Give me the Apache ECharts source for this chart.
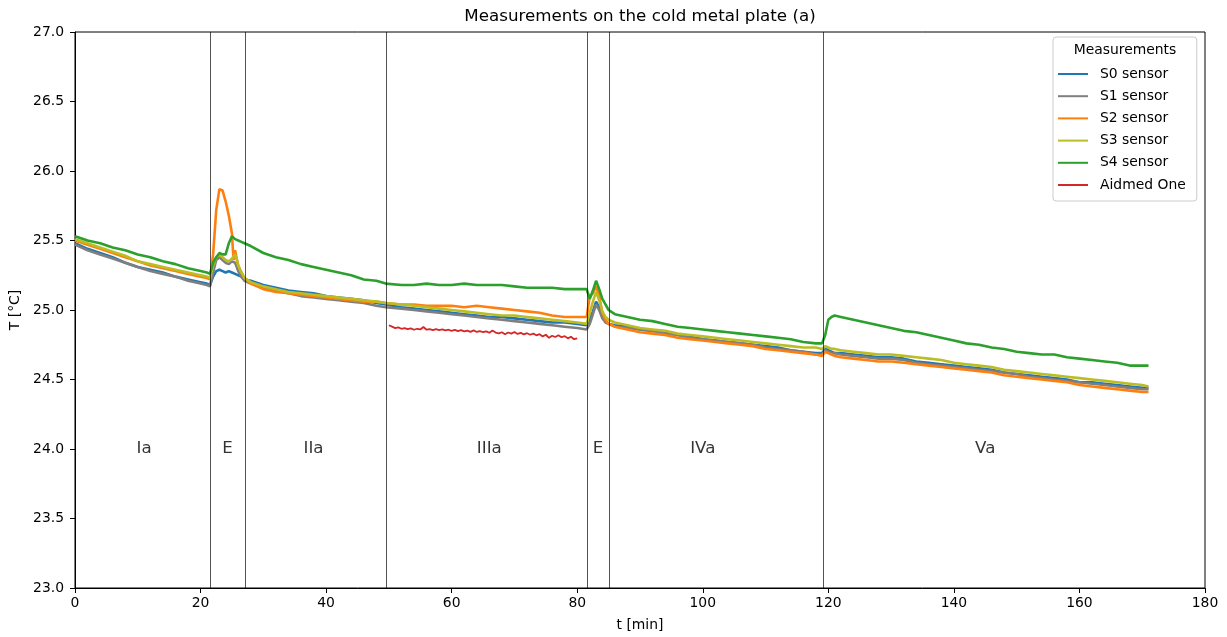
<!DOCTYPE html>
<html>
<head>
<meta charset="utf-8">
<script src="https://cdn.jsdelivr.net/npm/echarts@6/dist/echarts.min.js"></script>
<style>
  html, body { margin: 0; padding: 0; background: #fff; }
  #chart { width: 1227px; height: 637px; }
</style>
</head>
<body>
<div id="chart"></div>
<script>
// Sample times [min], shared by the five plate sensors
const minutes = [
  0, 2, 4, 6, 8, 10, 12, 14, 16, 18, 20, 21, 21.5,
  22, 22.5, 23, 23.5, 24, 24.5, 25, 25.25, 25.5, 25.75, 26, 26.5, 27,
  28, 30, 32, 34, 36, 38, 40, 42, 44, 46, 48, 49.5,
  52, 54, 56, 58, 60, 62, 64, 66, 68, 70, 72, 74, 76, 78, 80, 81.5,
  82, 82.5, 83, 83.5, 84, 84.5, 85,
  86, 88, 90, 92, 94, 96, 98, 100, 102, 104, 106, 108, 110, 112, 114, 116, 118, 119,
  119.5, 120, 120.5, 121, 122, 124, 126, 128, 130, 132, 134, 136, 138, 140, 142, 144, 146, 148, 150,
  152, 154, 156, 158, 160, 162, 164, 166, 168, 170, 171
];

// Temperatures [°C]
const s0 = [
  25.48, 25.44, 25.41, 25.38, 25.34, 25.31, 25.29, 25.27, 25.24, 25.22, 25.20, 25.19, 25.18,
  25.24, 25.28, 25.29, 25.28, 25.27, 25.28, 25.27, 25.27, 25.26, 25.26, 25.25, 25.24, 25.22,
  25.21, 25.18, 25.16, 25.14, 25.13, 25.12, 25.10, 25.09, 25.08, 25.07, 25.05, 25.04,
  25.02, 25.01, 25.00, 24.99, 24.98, 24.97, 24.96, 24.95, 24.95, 24.94, 24.93, 24.92, 24.91, 24.91, 24.90, 24.89,
  24.93, 24.99, 25.06, 25.02, 24.96, 24.92, 24.90,
  24.89, 24.88, 24.86, 24.85, 24.84, 24.82, 24.81, 24.79, 24.78, 24.77, 24.76, 24.75, 24.74, 24.73, 24.71, 24.70, 24.69, 24.69,
  24.72, 24.71, 24.70, 24.69, 24.69, 24.68, 24.67, 24.66, 24.66, 24.65, 24.63, 24.62, 24.61, 24.60, 24.59, 24.58, 24.57, 24.55, 24.54,
  24.53, 24.52, 24.51, 24.50, 24.48, 24.48, 24.47, 24.46, 24.45, 24.44, 24.44
];
const s1 = [
  25.47, 25.43, 25.40, 25.37, 25.34, 25.31, 25.28, 25.26, 25.24, 25.21, 25.19, 25.18, 25.17,
  25.27, 25.36, 25.38, 25.36, 25.34, 25.33, 25.35, 25.36, 25.34, 25.31, 25.28, 25.24, 25.21,
  25.19, 25.16, 25.14, 25.12, 25.10, 25.09, 25.08, 25.07, 25.06, 25.05, 25.03, 25.02,
  25.01, 25.00, 24.99, 24.98, 24.97, 24.96, 24.95, 24.94, 24.93, 24.92, 24.91, 24.90, 24.89, 24.88, 24.87, 24.86,
  24.90, 24.97, 25.04, 25.00, 24.94, 24.91, 24.90,
  24.88, 24.87, 24.86, 24.85, 24.83, 24.82, 24.80, 24.79, 24.78, 24.77, 24.76, 24.75, 24.73, 24.72, 24.71, 24.70, 24.68, 24.68,
  24.71, 24.70, 24.69, 24.69, 24.68, 24.67, 24.66, 24.65, 24.65, 24.64, 24.62, 24.61, 24.60, 24.59, 24.58, 24.57, 24.56, 24.55, 24.54,
  24.52, 24.51, 24.50, 24.49, 24.48, 24.47, 24.46, 24.45, 24.44, 24.43, 24.43
];
const s2 = [
  25.50, 25.47, 25.44, 25.41, 25.38, 25.35, 25.32, 25.30, 25.28, 25.26, 25.24, 25.23, 25.22,
  25.40, 25.72, 25.87, 25.86, 25.78, 25.68, 25.55, 25.36, 25.43, 25.37, 25.32, 25.27, 25.23,
  25.19, 25.15, 25.13, 25.12, 25.11, 25.10, 25.09, 25.08, 25.07, 25.06, 25.06, 25.05,
  25.04, 25.04, 25.03, 25.03, 25.03, 25.02, 25.03, 25.02, 25.01, 25.00, 24.99, 24.98, 24.96, 24.95, 24.95, 24.95,
  25.10, 25.12, 25.17, 25.10, 24.98, 24.93, 24.90,
  24.88, 24.86, 24.84, 24.83, 24.82, 24.80, 24.79, 24.78, 24.77, 24.76, 24.75, 24.74, 24.72, 24.71, 24.70, 24.69, 24.68, 24.67,
  24.70, 24.69, 24.68, 24.67, 24.66, 24.65, 24.64, 24.63, 24.63, 24.62, 24.61, 24.60, 24.59, 24.58, 24.57, 24.56, 24.55, 24.53, 24.52,
  24.51, 24.50, 24.49, 24.48, 24.46, 24.45, 24.44, 24.43, 24.42, 24.41, 24.41
];
const s3 = [
  25.51, 25.48, 25.45, 25.42, 25.39, 25.35, 25.33, 25.31, 25.29, 25.27, 25.25, 25.24, 25.23,
  25.32, 25.38, 25.40, 25.38, 25.36, 25.35, 25.37, 25.38, 25.40, 25.37, 25.32, 25.27, 25.23,
  25.20, 25.17, 25.15, 25.13, 25.12, 25.11, 25.10, 25.09, 25.08, 25.07, 25.06, 25.05,
  25.04, 25.03, 25.02, 25.01, 25.00, 24.99, 24.98, 24.97, 24.96, 24.96, 24.95, 24.94, 24.93, 24.92, 24.91, 24.90,
  24.98, 25.06, 25.13, 25.07, 24.99, 24.95, 24.93,
  24.91, 24.89, 24.87, 24.86, 24.85, 24.83, 24.82, 24.81, 24.80, 24.79, 24.78, 24.77, 24.76, 24.75, 24.74, 24.73, 24.73, 24.72,
  24.74, 24.73, 24.72, 24.72, 24.71, 24.70, 24.69, 24.68, 24.68, 24.67, 24.66, 24.65, 24.64, 24.62, 24.61, 24.60, 24.59, 24.57, 24.56,
  24.55, 24.54, 24.53, 24.52, 24.51, 24.50, 24.49, 24.48, 24.47, 24.46, 24.45
];
const s4 = [
  25.53, 25.50, 25.48, 25.45, 25.43, 25.40, 25.38, 25.35, 25.33, 25.30, 25.28, 25.27, 25.26,
  25.34, 25.38, 25.41, 25.40, 25.40, 25.48, 25.53, 25.52, 25.51, 25.51, 25.50, 25.49, 25.48,
  25.46, 25.41, 25.38, 25.36, 25.33, 25.31, 25.29, 25.27, 25.25, 25.22, 25.21, 25.19,
  25.18, 25.18, 25.19, 25.18, 25.18, 25.19, 25.18, 25.18, 25.18, 25.17, 25.16, 25.16, 25.16, 25.15, 25.15, 25.15,
  25.08, 25.14, 25.21, 25.15, 25.08, 25.04, 25.00,
  24.97, 24.95, 24.93, 24.92, 24.90, 24.88, 24.87, 24.86, 24.85, 24.84, 24.83, 24.82, 24.81, 24.80, 24.79, 24.77, 24.76, 24.76,
  24.82, 24.93, 24.95, 24.96, 24.95, 24.93, 24.91, 24.89, 24.87, 24.85, 24.84, 24.82, 24.80, 24.78, 24.76, 24.75, 24.73, 24.72, 24.70,
  24.69, 24.68, 24.68, 24.66, 24.65, 24.64, 24.63, 24.62, 24.60, 24.60, 24.60
];

// Aidmed One reference device, recorded in phase IIIa only
const aidmedMinutes = [
  50, 50.5, 51, 51.5, 52, 52.5, 53, 53.5, 54, 54.5, 55, 55.5, 56, 56.5, 57, 57.5, 58, 58.5, 59, 59.5,
  60, 60.5, 61, 61.5, 62, 62.5, 63, 63.5, 64, 64.5, 65, 65.5, 66, 66.5, 67, 67.5, 68, 68.5, 69, 69.5,
  70, 70.5, 71, 71.5, 72, 72.5, 73, 73.5, 74, 74.5, 75, 75.5, 76, 76.5, 77, 77.5, 78, 78.5, 79, 79.5, 80
];
const aidmed = [
  24.890, 24.880, 24.870, 24.875, 24.865, 24.870, 24.862, 24.868, 24.858, 24.865, 24.860, 24.878, 24.858, 24.862, 24.855, 24.863, 24.856, 24.860, 24.853, 24.858,
  24.850, 24.857, 24.848, 24.855, 24.846, 24.852, 24.843, 24.853, 24.842, 24.848, 24.840, 24.846, 24.836, 24.852, 24.838, 24.832, 24.840, 24.826, 24.838, 24.830,
  24.842, 24.828, 24.835, 24.825, 24.833, 24.822, 24.830, 24.818, 24.826, 24.810, 24.822, 24.800, 24.815, 24.806, 24.818, 24.804, 24.812, 24.796, 24.808, 24.790, 24.795
];

// Phase boundaries [min] and phase names
const phaseBoundaries = [21.5, 27.1, 49.5, 81.6, 85.1, 119.2];
const phaseNames = ['Ia', 'E', 'IIa', 'IIIa', 'E', 'IVa', 'Va'];
const phaseNameAt = [11, 24.3, 38, 66, 83.3, 100, 145];
const phaseNameTemp = 24.0;

const seriesNames = ['S0 sensor', 'S1 sensor', 'S2 sensor', 'S3 sensor', 'S4 sensor', 'Aidmed One'];
const seriesColors = ['#1f77b4', '#7f7f7f', '#ff7f0e', '#bcbd22', '#2ca02c', '#d62728'];

const FONT = 'DejaVu Sans';
const pairs = (xs, ys) => xs.map((x, i) => [x, ys[i]]);
const sensorValues = [s0, s1, s2, s3, s4];

const lineSeries = sensorValues.map((vals, k) => ({
  name: seriesNames[k],
  type: 'line',
  data: pairs(minutes, vals),
  showSymbol: false,
  symbol: 'none',
  lineStyle: { width: 2.6, color: seriesColors[k] },
  itemStyle: { color: seriesColors[k] },
  z: 3
}));
lineSeries.push({
  name: seriesNames[5],
  type: 'line',
  data: pairs(aidmedMinutes, aidmed),
  showSymbol: false,
  symbol: 'none',
  lineStyle: { width: 1.8, color: seriesColors[5] },
  itemStyle: { color: seriesColors[5] },
  z: 3
});

const chart = echarts.init(document.getElementById('chart'), null, { renderer: 'canvas' });

chart.setOption({
  animation: false,
  backgroundColor: '#ffffff',
  textStyle: { fontFamily: FONT },
  title: [
    {
      text: 'Measurements on the cold metal plate (a)',
      left: 640, top: 8, padding: 0, textAlign: 'center',
      textStyle: { fontFamily: FONT, fontSize: 16.7, fontWeight: 'normal', color: '#000' }
    },
    {
      text: 'Measurements',
      left: 1125, top: 43, padding: 0, textAlign: 'center', z: 10,
      textStyle: { fontFamily: FONT, fontSize: 13.9, fontWeight: 'normal', color: '#000' }
    }
  ],
  grid: {
    left: 75, right: 22, top: 32, bottom: 49,
    show: true, borderColor: '#000', borderWidth: 1, backgroundColor: 'transparent'
  },
  legend: {
    data: seriesNames,
    orient: 'vertical',
    left: 1053, top: 37,
    padding: [30, 11, 9, 5],
    icon: 'rect',
    itemWidth: 30, itemHeight: 2, itemGap: 8.2,
    backgroundColor: 'rgba(255,255,255,0.8)',
    borderColor: '#cccccc', borderWidth: 1, borderRadius: 3,
    textStyle: { fontFamily: FONT, fontSize: 13.9, color: '#000', padding: [0, 0, 0, 7] },
    selectedMode: false
  },
  xAxis: {
    type: 'value', min: 0, max: 180, interval: 20,
    name: 't [min]', nameLocation: 'middle', nameGap: 30,
    nameTextStyle: { fontFamily: FONT, fontSize: 13.9, color: '#000' },
    axisLine: { show: true, onZero: false, lineStyle: { color: '#000', width: 1 } },
    axisTick: { show: true, inside: false, length: 5, lineStyle: { color: '#000' } },
    axisLabel: { fontFamily: FONT, fontSize: 13.9, color: '#000', margin: 8 },
    splitLine: { show: false }
  },
  yAxis: {
    type: 'value', min: 23, max: 27, interval: 0.5,
    name: 'T [°C]', nameLocation: 'middle', nameGap: 46,
    nameTextStyle: { fontFamily: FONT, fontSize: 13.9, color: '#000' },
    axisLine: { show: true, onZero: false, lineStyle: { color: '#000', width: 1 } },
    axisTick: { show: true, inside: false, length: 5, lineStyle: { color: '#000' } },
    axisLabel: { fontFamily: FONT, fontSize: 13.9, color: '#000', margin: 11, formatter: v => v.toFixed(1) },
    splitLine: { show: false }
  },
  series: [
    {
      name: 'phases',
      type: 'scatter',
      data: phaseNameAt.map((x, i) => ({ value: [x, phaseNameTemp], name: phaseNames[i] })),
      symbolSize: 1,
      itemStyle: { color: 'rgba(0,0,0,0)' },
      silent: true,
      label: {
        show: true, position: 'inside', formatter: p => p.name,
        fontFamily: FONT, fontSize: 16.7, color: '#000'
      },
      markLine: {
        silent: true,
        symbol: ['none', 'none'],
        label: { show: false },
        lineStyle: { color: '#000', width: 0.8, type: 'solid', opacity: 0.85 },
        data: phaseBoundaries.map(x => ({ xAxis: x }))
      },
      z: 2
    },
    ...lineSeries
  ]
});
</script>
</body>
</html>
